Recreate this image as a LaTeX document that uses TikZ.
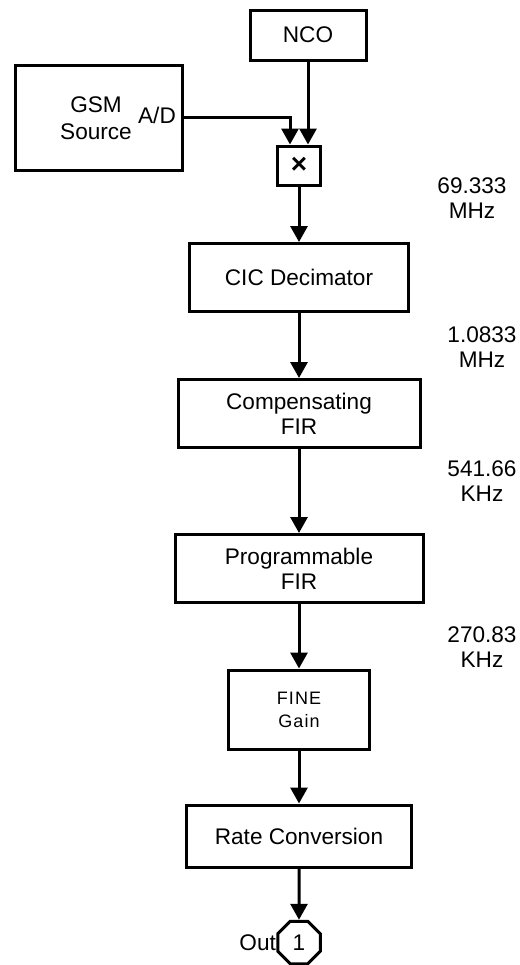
\documentclass[tikz,border=0pt]{standalone}
\usepackage{fontspec}
\setmainfont{Liberation Sans}
\usetikzlibrary{arrows.meta,shapes.geometric}

\begin{document}
\begin{tikzpicture}[
        x=0.5pt, y=-0.5pt,
        every node/.style={font=\fontsize{11.3}{12.5}\selectfont},
        block/.style={rectangle, draw=black, line width=1.5pt, align=center, inner sep=0pt, minimum height=34pt},
        mixer/.style={rectangle, draw=black, line width=1.5pt, minimum width=21.5pt, minimum height=19.5pt, inner sep=0pt},
        outport/.style={regular polygon, regular polygon sides=8, draw=black, line width=1.5pt, minimum size=23pt, inner sep=0pt},
        plain/.style={align=center, inner sep=0pt},
        arrow/.style={-{Triangle[width=8.5pt,length=8pt]}, line width=1.5pt, draw=black}
        ]

        \useasboundingbox (0,0) rectangle (520,965);

        \node[block, minimum width=58pt, minimum height=25pt] (nco) at (308,35) {NCO};
        \node[block, minimum width=83.5pt, minimum height=52.5pt] (gsm) at (98.5,117.5) {};
        \node[plain, font=\fontsize{11.3}{13.5}\selectfont] (gsmtext) at (96,118) {GSM\\Source};
        \node[plain] (ad) at (157,115) {A/D};
        \node[mixer, font=\fontsize{14}{14}\selectfont] (mult) at (299,165.5) {\textbf{×}};

        \node[block, minimum width=109.5pt] (cic) at (299,277.5) {CIC Decimator};
        \node[block, minimum width=121pt] (comp) at (299,413.5) {Compensating\\FIR};
        \node[block, minimum width=124pt] (prog) at (299,568.5) {Programmable\\FIR};
        \node[block, minimum width=70.5pt, minimum height=39.5pt, font=\fontsize{9}{11.5}\selectfont\addfontfeature{LetterSpace=6}] (fine) at (299,709.5) {FINE\\Gain};
        \node[block, minimum width=112.5pt, minimum height=31pt] (rateconv) at (299,836) {Rate Conversion};
        \node[outport] (out) at (299,942.5) {1};
        \node[anchor=east, inner sep=0pt] (outlabel) at (out.west) {Out};

        \node[plain] (f1) at (472,198) {69.333\\MHz};
        \node[plain] (f2) at (482,347) {1.0833\\MHz};
        \node[plain] (f3) at (482,481) {541.66\\KHz};
        \node[plain] (f4) at (482,647) {270.83\\KHz};

        \draw[arrow] (gsm.east) -| ([xshift=-4.5pt]mult.north);
        \draw[arrow] (nco.south) -- (nco.south |- mult.north);
        \draw[arrow] (mult) -- (cic);
        \draw[arrow] (cic) -- (comp);
        \draw[arrow] (comp) -- (prog);
        \draw[arrow] (prog) -- (fine);
        \draw[arrow] (fine) -- (rateconv);
        \draw[arrow] (rateconv) -- (out);

    \end{tikzpicture}
\end{document}
